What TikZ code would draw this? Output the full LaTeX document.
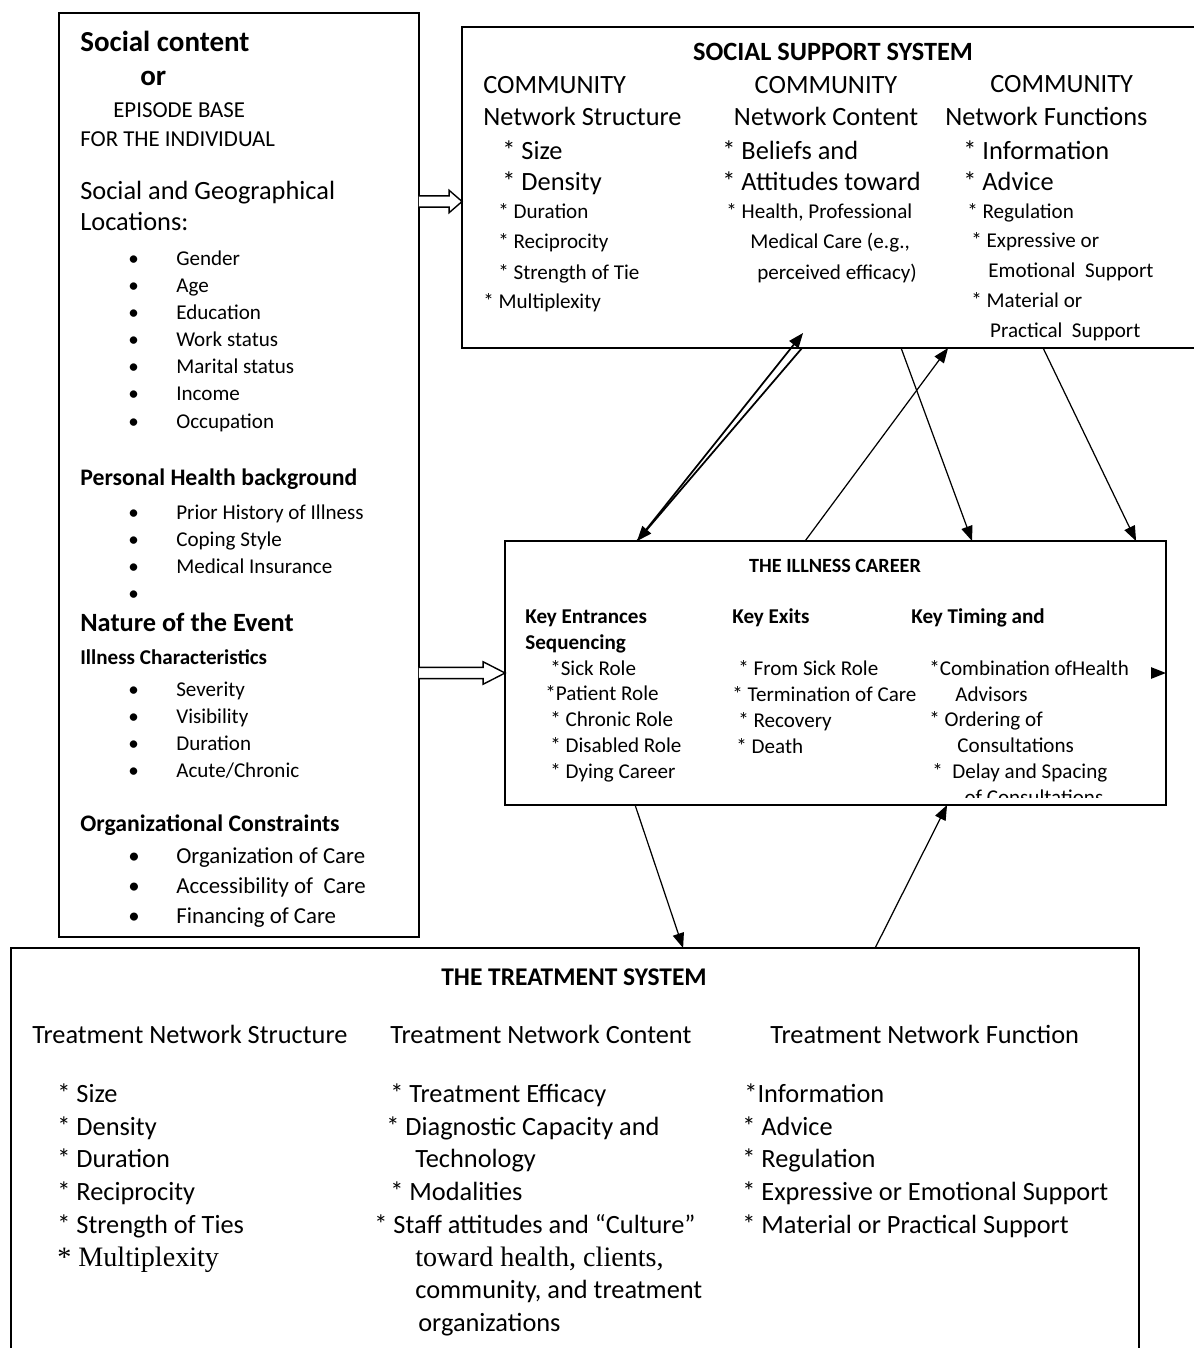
\documentclass[tikz,border=0pt]{standalone}
\usepackage{fontspec}
\setmainfont{Carlito}
\newfontfamily\tmfont{Liberation Serif}
\usetikzlibrary{arrows.meta, calc}

% bullet item with a fixed gap to the text
\newcommand{\bitem}[1]{\makebox[27.3pt][l]{\textbullet}#1}
% open block arrow: tail x from #1, tip from #2, head length #3
\newcommand{\hollowarrow}[3]{%
  \draw[hollow] let \p1=(#1), \p2=(#2) in
    (\x1,\y2+3.2pt) -- (\x2-#3,\y2+3.2pt) -- (\x2-#3,\y2+6.4pt) -- (\x2,\y2)
    -- (\x2-#3,\y2-6.4pt) -- (\x2-#3,\y2-3.2pt) -- (\x1,\y2-3.2pt);}

\begin{document}
\begin{tikzpicture}[x=0.02cm, y=-0.02cm,
  box/.style={draw, line width=1.1pt, outer sep=0pt, inner sep=0pt},
  % multi-line texts sit on the baseline of their last line
  txt/.style={anchor=base west, inner sep=0pt, align=left},
  f12/.style={font=\fontsize{12}{15.45}\selectfont},
  f15/.style={font=\fontsize{15}{18.7}\selectfont},
  trt/.style={font=\fontsize{15}{18.55}\selectfont},
  serif/.style={font=\tmfont\fontsize{16}{18.55}\selectfont},
  arr/.style={line width=0.7pt, -{Triangle[length=8.5pt, width=6.5pt]}},
  hollow/.style={line width=0.8pt, fill=white},
]
  \useasboundingbox (0,0) rectangle (1193,1348);

  % the four boxes
  \node[box, minimum width=7.2cm, minimum height=18.48cm] (ctx) at (239,475) {};
  \node[box, minimum width=14.86cm, minimum height=6.42cm] (social) at (833.5,187.5) {};
  \node[box, minimum width=13.22cm, minimum height=5.28cm] (ill) at (835.5,673) {};
  \node[box, minimum width=22.56cm, minimum height=8.24cm] (treat) at (575,1154) {};

  % episode base
  \node[txt, font=\bfseries\fontsize{16.5}{20}\selectfont] (ctxhead) at (80,52) {Social content};
  \node[txt, font=\bfseries\fontsize{16.5}{20}\selectfont] (ctxor) at (140,86) {or};
  \node[txt, font=\fontsize{13}{16}\selectfont] (ctxep) at (113,118) {EPISODE BASE};
  \node[txt, font=\fontsize{13}{16}\selectfont] (ctxind) at (80,147) {FOR THE INDIVIDUAL};
  \node[txt, font=\fontsize{15}{18.2}\selectfont] (ctxloc) at (80,231) {Social and Geographical\\Locations:};
  \node[txt, font=\fontsize{12}{15.46}\selectfont] (locitems) at (128,428) {\bitem{Gender}\\\bitem{Age}\\\bitem{Education}\\\bitem{Work status}\\\bitem{Marital status}\\\bitem{Income}\\\bitem{Occupation}};
  \node[txt, font=\bfseries\fontsize{13.5}{16}\selectfont] (phb) at (80,485) {Personal Health background};
  \node[txt, font=\fontsize{12}{15.2}\selectfont] (phbitems) at (128,600) {\bitem{Prior History of Illness}\\\bitem{Coping Style}\\\bitem{Medical Insurance}\\\bitem{}};
  \node[txt, font=\bfseries\fontsize{15}{18}\selectfont] (nature) at (80,631) {Nature of the Event};
  \node[txt, font=\bfseries\fontsize{12}{15}\selectfont] (illchar) at (80,664) {Illness Characteristics};
  \node[txt, font=\fontsize{12}{15.36}\selectfont] (illitems) at (128,777) {\bitem{Severity}\\\bitem{Visibility}\\\bitem{Duration}\\\bitem{Acute/Chronic}};
  \node[txt, font=\bfseries\fontsize{13.5}{16}\selectfont] (orgc) at (80,831) {Organizational Constraints};
  \node[txt, font=\fontsize{13}{17.07}\selectfont] (orgitems) at (128,923) {\bitem{Organization of Care}\\\bitem{Accessibility of~ Care}\\\bitem{Financing of Care}};

  % social support system
  \node[anchor=base, inner sep=0pt, font=\bfseries\fontsize{15}{18}\selectfont] (sstitle) at (833,61) {SOCIAL SUPPORT SYSTEM};
  \begin{scope}
    \clip (462,27) rectangle (1193,340);
    \node[txt, font=\fontsize{15}{18.78}\selectfont] (ss1a) at (483,126) {COMMUNITY\\Network Structure};
    \node[txt, font=\fontsize{15}{18.2}\selectfont] (ss1b) at (502,191) {* Size\\* Density};
    \node[txt, font=\fontsize{12}{17.36}\selectfont] (ss1c) at (498,279) {* Duration\\* Reciprocity\\* Strength of Tie};
    \node[txt, f12] (ss1d) at (483,308) {* Multiplexity};
    \node[anchor=base, inner sep=0pt, align=center, font=\fontsize{15}{18.78}\selectfont] (ss2a) at (826,126) {COMMUNITY\\Network Content};
    \node[txt, font=\fontsize{15}{18.2}\selectfont] (ss2b) at (722,191) {* Beliefs and\\* Attitudes toward};
    \node[txt, font=\fontsize{12}{17.36}\selectfont] (ss2c) at (726,279) {* Health, Professional\\\hspace*{13.7pt}Medical Care (e.g.,\\\hspace*{17.6pt}perceived efficacy)};
    \node[txt, f15] (ss3a) at (990,93) {COMMUNITY};
    \node[txt, f15] (ss3b) at (945,126) {Network Functions};
    \node[txt, font=\fontsize{15}{18.2}\selectfont] (ss3c) at (963,191) {* Information\\* Advice};
    \node[txt, font=\fontsize{12}{16.93}\selectfont] (ss3d) at (967,337) {* Regulation\\\hspace*{2.3pt}* Expressive or\\\hspace*{12pt}Emotional~ Support\\\hspace*{2.3pt}* Material or\\\hspace*{13pt}Practical~ Support};
  \end{scope}

  % illness career
  \node[anchor=base, inner sep=0pt, font=\bfseries\fontsize{11.5}{14}\selectfont] (iltitle) at (835,572) {THE ILLNESS CAREER};
  \node[txt, font=\bfseries\fontsize{12}{14.8}\selectfont] (ilkey1) at (525,649) {Key Entrances\\Sequencing};
  \node[txt, font=\bfseries\fontsize{12}{14.8}\selectfont] (ilkey2) at (732,623) {Key Exits};
  \node[txt, font=\bfseries\fontsize{12}{14.8}\selectfont] (ilkey3) at (911,623) {Key Timing and};
  \begin{scope}
    \clip (505,541) rectangle (1166,797);
    \node[txt, font=\fontsize{12}{14.65}\selectfont] (ilent) at (545,778) {\hspace*{2.8pt}*Sick Role\\*Patient Role\\\hspace*{2.8pt}* Chronic Role\\\hspace*{2.8pt}* Disabled Role\\\hspace*{2.8pt}* Dying Career};
    \node[txt, font=\fontsize{12}{14.65}\selectfont] (ilexit) at (732,753) {\hspace*{3.4pt}* From Sick Role\\* Termination of Care\\\hspace*{3.4pt}* Recovery\\\hspace*{2.3pt}* Death};
    \node[txt, font=\fontsize{12}{14.65}\selectfont] (iltime) at (929,804) {*Combination ofHealth\\\hspace*{14.8pt}Advisors\\* Ordering of\\\hspace*{16pt}Consultations\\\hspace*{1.7pt}*~ Delay and Spacing\\\hspace*{20pt}of Consultations};
  \end{scope}

  % treatment system
  \node[anchor=base, inner sep=0pt, font=\bfseries\fontsize{14.5}{17}\selectfont] (trtitle) at (574,985) {THE TREATMENT SYSTEM};
  \node[txt, f15] (tr1h) at (32,1043) {Treatment Network Structure};
  \node[txt, f15] (tr2h) at (390,1043) {Treatment Network Content};
  \node[txt, f15] (tr3h) at (770,1043) {Treatment Network Function};
  \node[txt, trt] (tr1a) at (57,1233) {* Size\\* Density\\* Duration\\* Reciprocity\\* Strength of Ties};
  \node[txt, serif] (tr1b) at (57,1266) {* Multiplexity};
  \node[txt, trt] (tr2a) at (374,1233) {\hspace*{9.1pt}* Treatment Efficacy\\\hspace*{6.8pt}* Diagnostic Capacity and\\\hspace*{23.3pt}Technology\\\hspace*{9.1pt}* Modalities\\* Staff attitudes and “Culture”};
  \node[txt, serif] (tr2b) at (415,1266) {toward health, clients,};
  \node[txt, trt] (tr2c) at (415,1331) {community, and treatment\\\hspace*{1.7pt}organizations};
  \node[txt, trt] (tr3) at (742,1233) {\hspace*{1.2pt}*Information\\* Advice\\* Regulation\\* Expressive or Emotional Support\\* Material or Practical Support};

  % open arrows into the two systems
  \hollowarrow{ctx.east}{$(social.west)+(0,14)$}{7.4pt}
  \hollowarrow{ctx.east}{ill.west}{12.5pt}

  % links between the systems
  \draw[arr, {Triangle[length=8.5pt, width=6.5pt]}-, line width=1pt] ($(ill.north west)+(132,0)$) -- ($(social.south west)+(340,0)$);
  \draw[arr, line width=1pt] ($(ill.north west)+(132,0)$) -- ($(social.south west)+(341,-15)$);
  \draw[arr] ($(ill.north west)+(300,0)$) -- ($(social.south west)+(486,0)$);
  \draw[arr] ($(social.south west)+(439,0)$) -- ($(ill.north west)+(467,0)$);
  \draw[arr] ($(social.south west)+(581,0)$) -- ($(ill.north west)+(631,0)$);
  \draw[arr] ($(ill.south west)+(130,0)$) -- ($(treat.north west)+(672,0)$);
  \draw[arr] ($(treat.north west)+(864,0)$) -- ($(ill.south west)+(442,0)$);
  \draw[arr] ([xshift=-8pt]ill.east) -- (ill.east);
\end{tikzpicture}
\end{document}
